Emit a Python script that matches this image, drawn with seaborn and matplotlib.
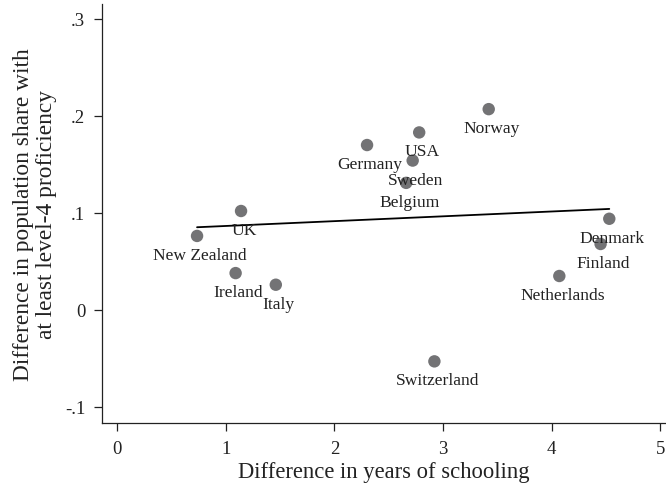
import numpy as np
import pandas as pd
import matplotlib
matplotlib.use('Agg')
import matplotlib.pyplot as plt
import seaborn as sns

# data
countries = ['New Zealand', 'UK', 'Ireland', 'Italy', 'Germany', 'USA', 'Sweden',
             'Belgium', 'Norway', 'Denmark', 'Finland', 'Netherlands', 'Switzerland']
years_diff = [0.735, 1.14, 1.09, 1.46, 2.30, 2.78, 2.72, 2.66, 3.42, 4.53, 4.45, 4.07, 2.92]
share_diff = [0.0763, 0.102, 0.038, 0.026, 0.170, 0.183, 0.154, 0.131, 0.207, 0.094,
              0.068, 0.035, -0.053]

x_ticks = [0, 1, 2, 3, 4, 5]
y_ticks = [-0.1, 0, 0.1, 0.2, 0.3]
y_tick_labels = ['-.1', '0', '.1', '.2', '.3']

df = pd.DataFrame({'country': countries, 'years': years_diff, 'share': share_diff})

sns.set_theme(style='white')
plt.rcParams['font.family'] = ['Liberation Serif', 'DejaVu Serif']

fig, ax = plt.subplots(figsize=(6.66, 4.89), dpi=100)
fig.subplots_adjust(left=0.153, right=0.999, bottom=0.133, top=0.99)

sns.scatterplot(data=df, x='years', y='share', s=80, color='#737375',
                edgecolor='none', ax=ax, zorder=3)
sns.regplot(data=df, x='years', y='share', scatter=False, ci=None,
            line_kws=dict(color='black', lw=1.3), ax=ax)

for _, row in df.iterrows():
    ax.annotate(row['country'], (row['years'], row['share']),
                xytext=(3, -19), textcoords='offset pixels',
                ha='center', va='center', fontsize=12.6, color='#222222')

ax.set_xlim(-0.141, 5.046)
ax.set_ylim(-0.1165, 0.3155)
ax.set_xticks(x_ticks)
ax.set_xticklabels([str(t) for t in x_ticks])
ax.set_yticks(y_ticks)
ax.set_yticklabels(y_tick_labels)

ax.tick_params(axis='both', which='major', direction='out', length=6, width=0.9,
               color='#222222', labelsize=13.5, labelcolor='#222222', pad=6,
               left=True, bottom=True)

for side in ['top', 'right']:
    ax.spines[side].set_visible(False)
for side in ['left', 'bottom']:
    ax.spines[side].set_color('#222222')
    ax.spines[side].set_linewidth(0.9)

ax.set_xlabel('Difference in years of schooling', fontsize=16.3, color='#222222', labelpad=3)
ax.set_ylabel('Difference in population share with\nat least level-4 proficiency',
              fontsize=16.8, color='#222222', labelpad=6, linespacing=1.12)

fig.savefig('out.png', dpi=100)
